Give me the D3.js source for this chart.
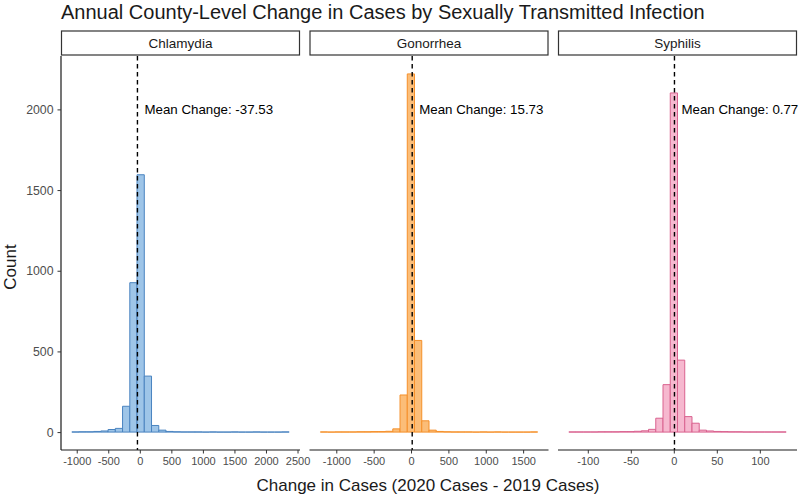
<!DOCTYPE html>
<html>
<head>
<meta charset="utf-8">
<script src="https://cdn.jsdelivr.net/npm/d3@7"></script>
<style>
  body { margin: 0; background: #fff; }
  text { font-family: "Liberation Sans", Arial, sans-serif; }
</style>
</head>
<body>
<div id="chart"></div>
<script>
// Facets and their summary values
const infections = ["Chlamydia", "Gonorrhea", "Syphilis"];
const meanChange = [-37.53, 15.73, 0.77];

// Histogram bins (30 per facet): first bin edge and bin width
const binStart = [-1077, -1213, -122];
const binWidth = [114.8, 96.9, 8.42];

// Counts per bin
const chlamydiaCounts = [1, 2, 2, 4, 7, 16, 23, 160, 926, 1595, 347, 41, 12, 4, 2, 1, 1, 1, 0, 1, 0, 0, 1, 0, 0, 1, 0, 0, 0, 1];
const gonorrheaCounts = [1, 0, 1, 1, 1, 2, 2, 3, 3, 5, 20, 230, 2220, 568, 70, 12, 4, 2, 1, 1, 1, 0, 1, 0, 1, 0, 0, 0, 0, 1];
const syphilisCounts = [1, 1, 1, 1, 2, 2, 2, 3, 3, 5, 8, 17, 86, 294, 2102, 446, 96, 55, 12, 7, 4, 3, 2, 2, 1, 1, 1, 1, 1, 1];
const counts = [chlamydiaCounts, gonorrheaCounts, syphilisCounts];

// Tick labels
const xTicks = [
  [-1000, -500, 0, 500, 1000, 1500, 2000, 2500],
  [-1000, -500, 0, 500, 1000, 1500],
  [-100, -50, 0, 50, 100]
];
const yTicks = [0, 500, 1000, 1500, 2000];

const strokeColors = ["#4a84c0", "#f5902a", "#d9628f"];
const fillColors = ["#9ec5e8", "#fbbd78", "#f6b8cf"];

const width = 800, height = 496;
const panelLeft = [61, 309.5, 558];
const panelW = 239;
const plotTop = 56, plotBottom = 450;

const svg = d3.select("#chart").append("svg")
  .attr("width", width)
  .attr("height", height);

// Shared y scale (ggplot-like 5% expansion)
const maxCount = d3.max(counts.flat());
const yPad = maxCount * 0.05;
const y = d3.scaleLinear()
  .domain([-yPad, maxCount + yPad])
  .range([plotBottom, plotTop]);

// Title
svg.append("text")
  .attr("x", 61)
  .attr("y", 19)
  .attr("font-size", 20)
  .attr("fill", "#1a1a1a")
  .text("Annual County-Level Change in Cases by Sexually Transmitted Infection");

infections.forEach((name, i) => {
  const x0 = panelLeft[i];
  const n = counts[i].length;
  const lo = binStart[i], hi = binStart[i] + n * binWidth[i];
  const pad = (hi - lo) * 0.05;
  const x = d3.scaleLinear()
    .domain([lo - pad, hi + pad])
    .range([x0, x0 + panelW]);

  const bins = counts[i].map((c, k) => ({
    x0: lo + k * binWidth[i],
    x1: lo + (k + 1) * binWidth[i],
    count: c
  }));

  const g = svg.append("g");

  // Strip
  g.append("rect")
    .attr("x", x0 + 0.5)
    .attr("y", 31)
    .attr("width", panelW - 1)
    .attr("height", 24)
    .attr("fill", "#fff")
    .attr("stroke", "#333")
    .attr("stroke-width", 1.2);
  g.append("text")
    .attr("x", x0 + panelW / 2)
    .attr("y", 43)
    .attr("dy", "0.35em")
    .attr("text-anchor", "middle")
    .attr("font-size", 13.5)
    .attr("fill", "#1a1a1a")
    .text(name);

  // Bars as closed outlines, so empty bins still show as a baseline
  g.selectAll("path.bar")
    .data(bins)
    .enter()
    .append("path")
    .attr("class", "bar")
    .attr("d", d => `M${x(d.x0)},${y(0)}V${y(d.count)}H${x(d.x1)}V${y(0)}Z`)
    .attr("fill", fillColors[i])
    .attr("stroke", strokeColors[i])
    .attr("stroke-width", 1);

  // Mean line
  g.append("line")
    .attr("x1", x(meanChange[i]))
    .attr("x2", x(meanChange[i]))
    .attr("y1", plotTop)
    .attr("y2", plotBottom)
    .attr("stroke", "#000")
    .attr("stroke-width", 1.4)
    .attr("stroke-dasharray", "4.5,3.5");

  g.append("text")
    .attr("x", x(meanChange[i]) + 7)
    .attr("y", y(2000))
    .attr("dy", "0.35em")
    .attr("font-size", 13.3)
    .attr("fill", "#000")
    .text("Mean Change: " + meanChange[i]);

  // X axis
  const xAxis = g.append("g")
    .attr("transform", `translate(0,${plotBottom})`)
    .call(d3.axisBottom(x).tickValues(xTicks[i]).tickFormat(d => String(d)).tickSize(3.5).tickPadding(4))
    .call(a => a.select(".domain").attr("stroke", "#1a1a1a").attr("stroke-width", 1.2)
      .attr("d", `M${x0},0H${x0 + panelW}`));
  xAxis.selectAll(".tick line").attr("stroke", "#333");
  xAxis.selectAll(".tick text")
    .attr("font-size", 11)
    .attr("fill", "#4d4d4d");

  // Y axis on first panel only
  if (i === 0) {
    const yAxis = g.append("g")
      .attr("transform", `translate(${x0},0)`)
      .call(d3.axisLeft(y).tickValues(yTicks).tickFormat(d => String(d)).tickSize(3.5).tickPadding(4))
      .call(a => a.select(".domain").attr("stroke", "#1a1a1a").attr("stroke-width", 1.2)
        .attr("d", `M0,${plotTop}V${plotBottom}`));
    yAxis.selectAll(".tick line").attr("stroke", "#333");
    yAxis.selectAll(".tick text")
      .attr("font-size", 12.3)
      .attr("fill", "#4d4d4d");
  }
});

// Axis titles
svg.append("text")
  .attr("transform", "translate(16,267) rotate(-90)")
  .attr("text-anchor", "middle")
  .attr("font-size", 17)
  .attr("fill", "#1a1a1a")
  .text("Count");

svg.append("text")
  .attr("x", 428)
  .attr("y", 491)
  .attr("text-anchor", "middle")
  .attr("font-size", 17)
  .attr("fill", "#1a1a1a")
  .text("Change in Cases (2020 Cases - 2019 Cases)");
</script>
</body>
</html>
